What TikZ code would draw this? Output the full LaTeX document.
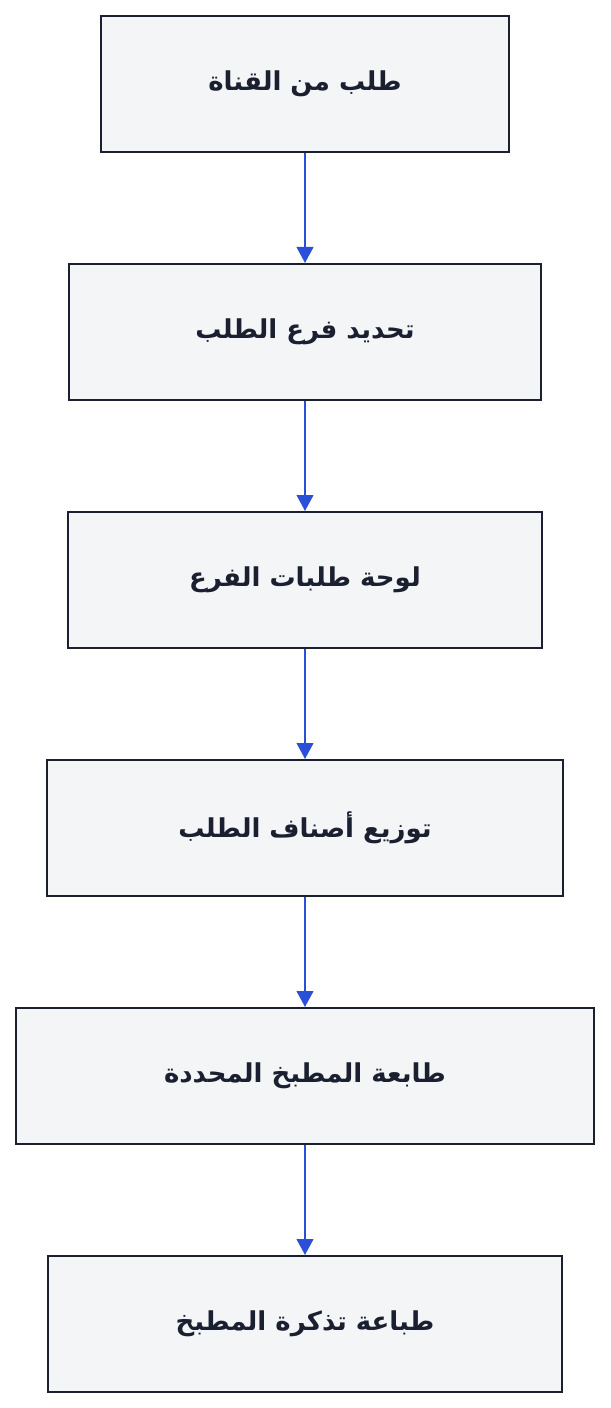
\documentclass[tikz,border=0pt]{standalone}
\usepackage{fontspec}
\newfontfamily\arabicfont[Script=Arabic]{DejaVu Sans}
\TeXXeTstate=1
\usetikzlibrary{positioning,arrows.meta}
\definecolor{boxfill}{HTML}{F4F5F7}
\definecolor{boxline}{HTML}{1A2030}
\definecolor{flowblue}{HTML}{2B50D8}

\begin{document}
\begin{tikzpicture}[>={Triangle[length=12pt,width=12.5pt]},node distance=82.5pt,thick]
  \tikzset{stepbox/.style={draw=boxline,fill=boxfill,line width=1.5pt,minimum height=102pt,inner sep=0pt,
      font=\arabicfont\bfseries\fontsize{19.5}{23}\selectfont,text=boxline}}
  \useasboundingbox (0,0) rectangle (457.5pt,-1056pt);
  \node[stepbox,minimum width=306pt] (channel) at (228.75pt,-63pt) {\beginR طلب من القناة\endR};
  \node[stepbox,minimum width=354pt,below=of channel] (branch) {\beginR تحديد فرع الطلب\endR};
  \node[stepbox,minimum width=355.5pt,below=of branch] (board) {\beginR لوحة طلبات الفرع\endR};
  \node[stepbox,minimum width=387pt,below=of board] (items) {\beginR توزيع أصناف الطلب\endR};
  \node[stepbox,minimum width=433.5pt,below=of items] (printer) {\beginR طابعة المطبخ المحددة\endR};
  \node[stepbox,minimum width=385.5pt,below=of printer] (ticket) {\beginR طباعة تذكرة المطبخ\endR};
  \path[->,draw=flowblue,fill=flowblue,line width=1.5pt] (channel) edge (branch);
  \path[->,draw=flowblue,fill=flowblue,line width=1.5pt] (branch) edge (board);
  \path[->,draw=flowblue,fill=flowblue,line width=1.5pt] (board) edge (items);
  \path[->,draw=flowblue,fill=flowblue,line width=1.5pt] (items) edge (printer);
  \path[->,draw=flowblue,fill=flowblue,line width=1.5pt] (printer) edge (ticket);
\end{tikzpicture}
\end{document}
